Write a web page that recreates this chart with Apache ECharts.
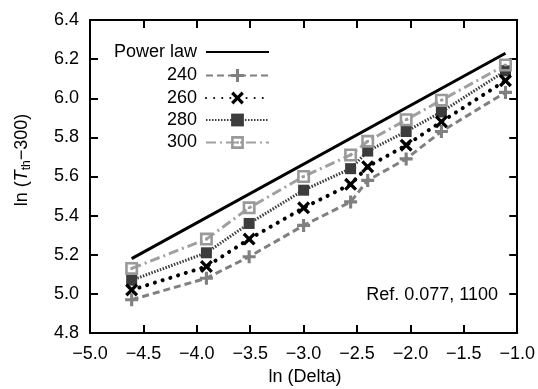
<!DOCTYPE html>
<html><head><meta charset="utf-8">
<script src="https://cdn.jsdelivr.net/npm/echarts@6/dist/echarts.min.js"></script>
<style>html,body{margin:0;padding:0;background:#fff}#c{width:538px;height:389px}</style>
</head><body><div id="c"></div>
<script>
const xVals = [-4.61, -3.91, -3.51, -3.0, -2.56, -2.40, -2.04, -1.71, -1.11];
const s240 = [4.97, 5.08, 5.19, 5.35, 5.47, 5.58, 5.69, 5.83, 6.03];
const s260 = [5.02, 5.14, 5.28, 5.44, 5.56, 5.65, 5.76, 5.88, 6.09];
const s280 = [5.07, 5.21, 5.36, 5.53, 5.64, 5.73, 5.83, 5.93, 6.14];
const s300 = [5.13, 5.28, 5.44, 5.60, 5.71, 5.78, 5.89, 5.99, 6.17];
const powerX = [-4.61, -1.11];
const powerY = [5.18, 6.23];
const seriesNames = ['Power law', '240', '260', '280', '300'];
const annotation = 'Ref. 0.077, 1100';

const FONT = "'Liberation Sans', Arial, sans-serif";
const pair = (xs, ys) => xs.map((x, i) => [x, ys[i]]);
const fmt = v => (v < 0 ? '\u2212' : '') + Math.abs(v).toFixed(1);

const PLUS = 'path://M3.8,0H6.2V3.8H10V6.2H6.2V10H3.8V6.2H0V3.8H3.8Z';
const CROSS = 'path://M0,1.8L1.8,0L5,3.2L8.2,0L10,1.8L6.8,5L10,8.2L8.2,10L5,6.8L1.8,10L0,8.2L3.2,5Z';
const OSQ = 'path://M0,0H10V10H0Z M2,2V8H8V2Z M4,4H6V6H4Z';

const chart = echarts.init(document.getElementById('c'), null, {renderer: 'canvas'});
const axisCommon = {
  axisLine: {show: true, onZero: false, lineStyle: {color: '#000', width: 2}},
  axisTick: {show: true, inside: true, length: 8, lineStyle: {color: '#000', width: 2}},
  splitLine: {show: false}
};
const legendCommon = {
  orient: 'horizontal', align: 'right', padding: 0, itemWidth: 63, itemHeight: 16,
  right: 268,
  textStyle: {fontFamily: FONT, fontSize: 18, color: '#000', lineHeight: 18, padding: [0, 4, 0, 0]}
};
const centers = [52, 75.5, 98, 120, 142.5];
chart.setOption({
  animation: false,
  backgroundColor: '#fff',
  grid: {left: 90, right: 18, top: 20, bottom: 56, containLabel: false},
  xAxis: [
    Object.assign({type: 'value', min: -5, max: -1, interval: 0.5, position: 'bottom',
      axisLabel: {formatter: fmt, fontFamily: FONT, fontSize: 18, color: '#000', margin: 12}}, axisCommon),
    Object.assign({type: 'value', min: -5, max: -1, interval: 0.5, position: 'top',
      axisLabel: {show: false}}, axisCommon)
  ],
  yAxis: [
    Object.assign({type: 'value', min: 4.8, max: 6.4, interval: 0.2, position: 'left',
      axisLabel: {formatter: v => v.toFixed(1), fontFamily: FONT, fontSize: 18, color: '#000', margin: 11}}, axisCommon),
    Object.assign({type: 'value', min: 4.8, max: 6.4, interval: 0.2, position: 'right',
      axisLabel: {show: false}}, axisCommon)
  ],
  legend: seriesNames.map((n, i) => Object.assign({}, legendCommon, {
    data: [i === 0 ? {name: n, itemStyle: {opacity: 0}} : n], top: centers[i] - 9})),
  graphic: [
    {type: 'text', x: 498, y: 295, style: {text: annotation, font: '18px ' + FONT, fill: '#000', align: 'right', verticalAlign: 'middle'}},
    {type: 'text', x: 305, y: 377, style: {text: 'ln (Delta)', font: '18px ' + FONT, fill: '#000', align: 'center', verticalAlign: 'middle'}},
    {type: 'text', x: 22, y: 160, rotation: Math.PI / 2,
      style: {text: 'ln ({i|T}{s|th}\u2212300)', font: '18px ' + FONT, fill: '#000', align: 'center', verticalAlign: 'middle',
        rich: {
          i: {fontStyle: 'italic', fontSize: 18, fontFamily: FONT, fill: '#000', lineHeight: 22},
          s: {fontSize: 12, fontFamily: FONT, fill: '#000', verticalAlign: 'bottom', lineHeight: 12, padding: [8, 0, 0, 0]}
        }}}
  ],
  series: [
    {name: '280', type: 'line', data: pair(xVals, s280), symbol: 'rect', symbolSize: 11,
      itemStyle: {color: '#3c3c3c'}, lineStyle: {color: '#3c3c3c', width: 3, type: [1.5, 1.5]}},
    {name: '240', type: 'line', data: pair(xVals, s240), symbol: PLUS, symbolSize: 13,
      itemStyle: {color: '#808080'}, lineStyle: {color: '#808080', width: 3, type: [7, 4]}},
    {name: '260', type: 'line', data: pair(xVals, s260), symbol: CROSS, symbolSize: 13,
      itemStyle: {color: '#000'}, lineStyle: {color: '#000', width: 4, type: [0.1, 8], cap: 'round'}},
    {name: '300', type: 'line', data: pair(xVals, s300), symbol: OSQ, symbolSize: 13,
      itemStyle: {color: '#999'}, lineStyle: {color: '#a0a0a0', width: 3, type: [10, 4, 2, 4]}},
    {name: 'Power law', type: 'line', data: pair(powerX, powerY), symbol: 'none',
      itemStyle: {color: '#000'}, lineStyle: {color: '#000', width: 3}}
  ]
});
</script></body></html>
